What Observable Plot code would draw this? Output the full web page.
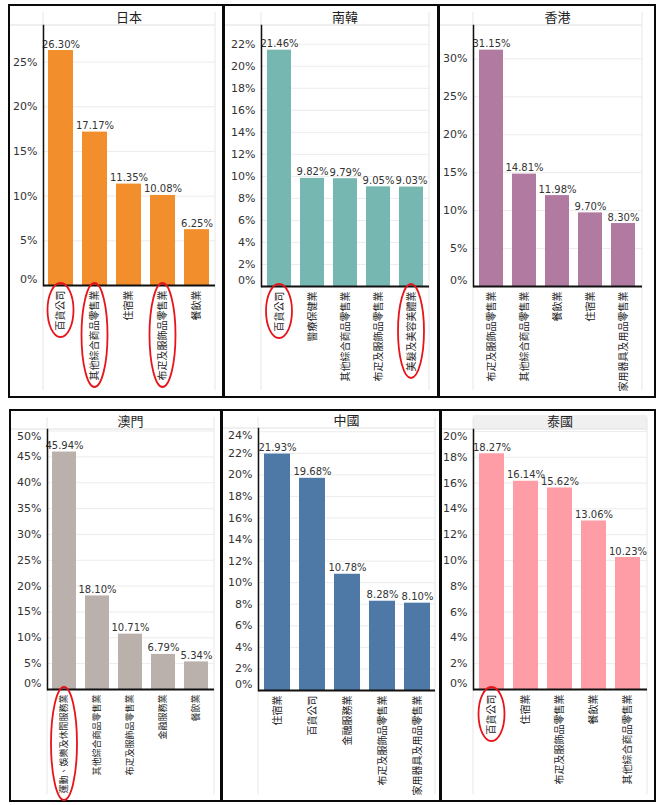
<!DOCTYPE html>
<html>
<head>
<meta charset="utf-8">
<script src="https://cdn.jsdelivr.net/npm/d3@7"></script>
<script src="https://cdn.jsdelivr.net/npm/@observablehq/plot@0.6"></script>
<style>
  body { margin: 0; background: #fff; }
  #board { position: relative; width: 661px; height: 805px; overflow: hidden; background: #fff; }
  .panel { position: absolute; box-sizing: border-box; border: 2px solid #0a0a0a; background: #fff; }
  .panel svg { display: block; }
</style>
</head>
<body>
<div id="board"></div>
<script>
// 各地區消費額占比前五名行業（%）
const japanCats = ["百貨公司", "其他綜合商品零售業", "住宿業", "布疋及服飾品零售業", "餐飲業"];
const japanValues = [26.30, 17.17, 11.35, 10.08, 6.25];
const japanTicks = [0, 5, 10, 15, 20, 25];
const japanCircled = ["百貨公司", "其他綜合商品零售業", "布疋及服飾品零售業"];

const koreaCats = ["百貨公司", "醫療保健業", "其他綜合商品零售業", "布疋及服飾品零售業", "美髮及美容美體業"];
const koreaValues = [21.46, 9.82, 9.79, 9.05, 9.03];
const koreaTicks = [0, 2, 4, 6, 8, 10, 12, 14, 16, 18, 20, 22];
const koreaCircled = ["百貨公司", "美髮及美容美體業"];

const hongkongCats = ["布疋及服飾品零售業", "其他綜合商品零售業", "餐飲業", "住宿業", "家用器具及用品零售業"];
const hongkongValues = [31.15, 14.81, 11.98, 9.70, 8.30];
const hongkongTicks = [0, 5, 10, 15, 20, 25, 30];
const hongkongCircled = [];

const macauCats = ["運動、娛樂及休閒服務業", "其他綜合商品零售業", "布疋及服飾品零售業", "金融服務業", "餐飲業"];
const macauValues = [45.94, 18.10, 10.71, 6.79, 5.34];
const macauTicks = [0, 5, 10, 15, 20, 25, 30, 35, 40, 45, 50];
const macauCircled = ["運動、娛樂及休閒服務業"];

const chinaCats = ["住宿業", "百貨公司", "金融服務業", "布疋及服飾品零售業", "家用器具及用品零售業"];
const chinaValues = [21.93, 19.68, 10.78, 8.28, 8.10];
const chinaTicks = [0, 2, 4, 6, 8, 10, 12, 14, 16, 18, 20, 22, 24];
const chinaCircled = [];

const thaiCats = ["百貨公司", "住宿業", "布疋及服飾品零售業", "餐飲業", "其他綜合商品零售業"];
const thaiValues = [18.27, 16.14, 15.62, 13.06, 10.23];
const thaiTicks = [0, 2, 4, 6, 8, 10, 12, 14, 16, 18, 20];
const thaiCircled = ["百貨公司"];

// 版面設定：外框位置 [left, top, width, height]、邊距與 y 軸上限
const panels = [
  { title: "日本", cats: japanCats, values: japanValues, ticks: japanTicks, circled: japanCircled,
    color: "#F28E2B", box: [8, 4, 216, 394], yMax: 29.1, mL: 33, mR: 7, mT: 19, mB: 111, labelSize: 10 },
  { title: "南韓", cats: koreaCats, values: koreaValues, ticks: koreaTicks, circled: koreaCircled,
    color: "#76B7B2", box: [223, 4, 216, 394], yMax: 23.7, mL: 36, mR: 8, mT: 19, mB: 110, labelSize: 10 },
  { title: "香港", cats: hongkongCats, values: hongkongValues, ticks: hongkongTicks, circled: hongkongCircled,
    color: "#B07AA1", box: [438, 4, 218, 394], yMax: 34.4, mL: 33, mR: 12, mT: 19, mB: 110, labelSize: 10 },
  { title: "澳門", cats: macauCats, values: macauValues, ticks: macauTicks, circled: macauCircled,
    color: "#BAB0AC", box: [9, 409, 213, 393], yMax: 50.3, mL: 36, mR: 6, mT: 18, mB: 111, labelSize: 9 },
  { title: "中國", cats: chinaCats, values: chinaValues, ticks: chinaTicks, circled: chinaCircled,
    color: "#4E79A7", box: [221, 409, 220, 393], yMax: 24.3, mL: 35, mR: 4, mT: 17, mB: 110, labelSize: 10 },
  { title: "泰國", cats: thaiCats, values: thaiValues, ticks: thaiTicks, circled: thaiCircled,
    color: "#FF9DA7", box: [440, 409, 216, 393], yMax: 20.15, mL: 31, mR: 7, mT: 18, mB: 111, labelSize: 10,
    headerFill: "#f0f0f0" }
];

const numFont = "'DejaVu Sans', Verdana, sans-serif";
const cjkFont = "'Noto Sans CJK TC', 'Noto Sans CJK SC', sans-serif";
const board = document.getElementById("board");

for (const p of panels) {
  const [left, top, w, h] = p.box;
  const W = w - 4, H = h - 4;
  const div = document.createElement("div");
  div.className = "panel";
  Object.assign(div.style, { left: left + "px", top: top + "px", width: w + "px", height: h + "px" });
  board.appendChild(div);

  const data = p.cats.map((cat, i) => ({ cat, value: p.values[i] }));
  const ys = Plot.scale({ y: { domain: [0, p.yMax], range: [H - p.mB, p.mT] } });
  const topTick = p.ticks[p.ticks.length - 1];
  const topDy = Math.max(0, p.mT + 7 - ys.apply(topTick));
  const innerTicks = p.ticks.slice(1, -1);
  const yAxisOpts = { tickSize: 0, tickPadding: 6, tickFormat: d => d + "%", fontSize: 11,
                      fontFamily: numFont, fill: "#333", label: null };

  const plot = Plot.plot({
    width: W,
    height: H,
    marginLeft: p.mL,
    marginRight: p.mR,
    marginTop: p.mT,
    marginBottom: p.mB,
    style: { fontFamily: numFont, color: "#222", background: "white", overflow: "visible" },
    x: { domain: p.cats, paddingInner: 0.26, paddingOuter: 0.12 },
    y: { domain: [0, p.yMax] },
    marks: [
      Plot.gridY(p.ticks.slice(1), { stroke: "#ececec", strokeOpacity: 1 }),
      Plot.barY(data, { x: "cat", y: "value", fill: p.color }),
      Plot.text(data, { x: "cat", y: "value", text: d => d.value.toFixed(2) + "%", dy: -3,
                        lineAnchor: "bottom", fontSize: 10, fontFamily: numFont, fill: "#333" }),
      Plot.axisY(innerTicks, yAxisOpts),
      Plot.axisY([0], { ...yAxisOpts, dy: -6 }),
      Plot.axisY([topTick], { ...yAxisOpts, dy: topDy }),
      Plot.axisX({ tickRotate: -90, tickSize: 0, tickPadding: 5, fontSize: p.labelSize,
                   fontFamily: cjkFont, fill: "#222", label: null }),
      Plot.frame({ anchor: "left", stroke: "#111", strokeWidth: 1.5 }),
      Plot.ruleY([0], { stroke: "#111", strokeWidth: 2 })
    ]
  });
  div.appendChild(plot);

  const svg = d3.select(plot);
  const right = W - p.mR;

  // 標題列與欄位分隔線
  const header = svg.insert("g", ":first-child");
  if (p.headerFill) {
    header.append("rect").attr("x", p.mL).attr("y", 4).attr("width", right - p.mL)
      .attr("height", p.mT - 4).attr("fill", p.headerFill);
  }
  header.append("line").attr("x1", 0).attr("x2", right).attr("y1", p.mT).attr("y2", p.mT)
    .attr("stroke", "#e0e0e0");
  for (const x of [p.mL, right]) {
    header.append("line").attr("x1", x).attr("x2", x).attr("y1", 6).attr("y2", H - 6)
      .attr("stroke", "#e6e6e6");
  }
  svg.append("text")
    .attr("x", (p.mL + right) / 2).attr("y", p.mT - 6.5)
    .attr("text-anchor", "middle").attr("dominant-baseline", "middle")
    .attr("font-family", cjkFont).attr("font-size", 13).attr("fill", "#222")
    .text(p.title);

  // 以紅色橢圓標示重點行業
  const xs = plot.scale("x");
  const baseY = H - p.mB;
  for (const cat of p.circled) {
    const len = [...cat].length * p.labelSize;
    svg.append("ellipse")
      .attr("cx", xs.apply(cat) + xs.bandwidth / 2)
      .attr("cy", baseY + 5 + len / 2)
      .attr("rx", 13)
      .attr("ry", len / 2 + 7)
      .attr("fill", "none")
      .attr("stroke", "#e8141b")
      .attr("stroke-width", 1.8);
  }
}
</script>
</body>
</html>
